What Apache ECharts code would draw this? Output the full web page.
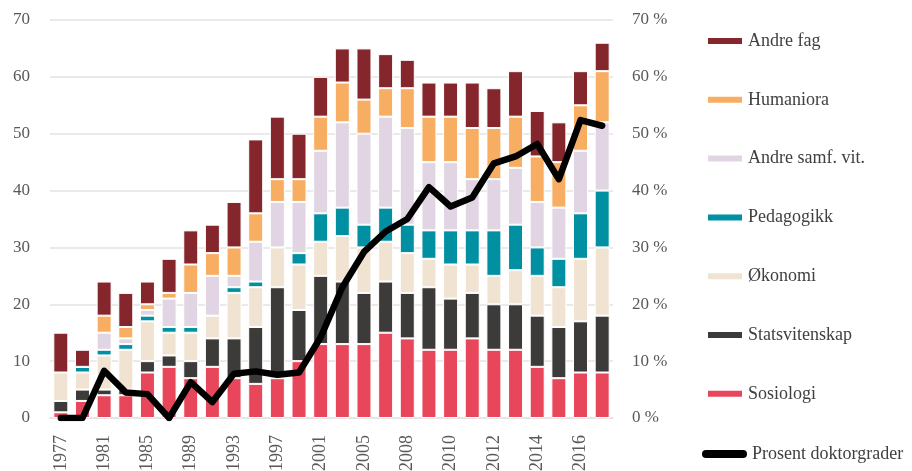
<!DOCTYPE html>
<html>
<head>
<meta charset="utf-8">
<script src="https://cdn.jsdelivr.net/npm/echarts@6/dist/echarts.min.js"></script>
<style>
  html, body { margin: 0; padding: 0; background: #fff; }
  #chart { width: 912px; height: 471px; }
</style>
</head>
<body>
<div id="chart"></div>
<script>
const years = ['1977', '1979', '1981', '1983', '1985', '1987', '1989', '1991', '1993', '1995', '1997', '1999', '2001',
  '2003', '2005', '2007', '2008', '2009', '2010', '2011', '2012', '2013', '2014', '2015', '2016', '2017']

const sosiologi = [1, 3, 4, 4, 8, 9, 7, 9, 7, 6, 7, 10, 13, 13, 13, 15, 14, 12, 12, 14, 12, 12, 9, 7, 8, 8]
const statsvitenskap = [2, 2, 1, 1, 2, 2, 3, 5, 7, 10, 16, 9, 12, 11, 9, 9, 8, 11, 9, 8, 8, 8, 9, 9, 9, 10]
const okonomi = [5, 3, 6, 7, 7, 4, 5, 4, 8, 7, 7, 8, 6, 8, 8, 7, 7, 5, 6, 5, 5, 6, 7, 7, 11, 12]
const pedagogikk = [0, 1, 1, 1, 1, 1, 1, 0, 1, 1, 0, 2, 5, 5, 4, 6, 5, 5, 6, 6, 8, 8, 5, 5, 8, 10]
const andreSamf = [0, 0, 3, 1, 1, 5, 6, 7, 2, 7, 8, 9, 11, 15, 16, 16, 17, 12, 12, 9, 9, 10, 8, 9, 11, 12]
const humaniora = [0, 0, 3, 2, 1, 1, 5, 4, 5, 5, 4, 4, 6, 7, 6, 5, 7, 8, 8, 9, 9, 9, 8, 8, 8, 9]
const andreFag = [7, 3, 6, 6, 4, 6, 6, 5, 8, 13, 11, 8, 7, 6, 9, 6, 5, 6, 6, 8, 7, 8, 8, 7, 6, 5]
const prosent = [0, 0, 8.3, 4.5, 4.2, 0, 6.3, 2.8, 7.8, 8.2, 7.6, 8, 14.2, 23, 29.2, 32.8, 35, 40.6, 37.2, 38.8,
  44.8, 46, 48.2, 42, 52.4, 51.4]

const font = '"Liberation Serif", "DejaVu Serif", serif'

const stacks = [
  { name: 'Sosiologi', data: sosiologi, color: '#e8475b' },
  { name: 'Statsvitenskap', data: statsvitenskap, color: '#3c3b39' },
  { name: 'Økonomi', data: okonomi, color: '#f1e3d2' },
  { name: 'Pedagogikk', data: pedagogikk, color: '#0090a2' },
  { name: 'Andre samf. vit.', data: andreSamf, color: '#e1d5e4' },
  { name: 'Humaniora', data: humaniora, color: '#f7ae62' },
  { name: 'Andre fag', data: andreFag, color: '#85262c' }
]

const valueAxis = (extra) => Object.assign({
  type: 'value',
  min: 0,
  max: 70,
  interval: 10,
  axisLine: { show: false },
  axisTick: { show: false },
  splitLine: { lineStyle: { color: '#e3e3e3', width: 1.5 } },
  axisLabel: { color: '#595959', fontFamily: font, fontSize: 17 }
}, extra)

const chart = echarts.init(document.getElementById('chart'))
chart.setOption({
  animation: false,
  grid: { left: 50, right: 299, top: 20, bottom: 53, outerBoundsMode: 'none' },
  legend: [{
    orient: 'vertical',
    left: 706,
    top: 31,
    padding: 0,
    itemWidth: 36,
    itemHeight: 8,
    itemGap: 38.8,
    icon: 'rect',
    textStyle: { color: '#404040', fontFamily: font, fontSize: 18, lineHeight: 20 },
    data: stacks.map(s => s.name).reverse()
  }, {
    left: 702,
    top: 444,
    padding: 0,
    itemWidth: 45,
    itemHeight: 8,
    icon: 'path://M4,0 h37 a4,4 0 0 1 0,8 h-37 a4,4 0 0 1 0,-8z',
    textStyle: { color: '#404040', fontFamily: font, fontSize: 18, lineHeight: 20 },
    data: ['Prosent doktorgrader']
  }],
  xAxis: {
    type: 'category',
    data: years,
    axisLine: { lineStyle: { color: '#e3e3e3', width: 1.5 } },
    axisTick: { show: false },
    axisLabel: {
      interval: 1,
      rotate: 90,
      margin: 17,
      color: '#595959',
      fontFamily: font,
      fontSize: 18
    }
  },
  yAxis: [
    valueAxis({ axisLabel: { color: '#595959', fontFamily: font, fontSize: 17, margin: 20 } }),
    valueAxis({
      position: 'right',
      splitLine: { show: false },
      axisLabel: { color: '#595959', fontFamily: font, fontSize: 17, margin: 19, formatter: '{value} %' }
    })
  ],
  series: [
    ...stacks.map(s => ({
      name: s.name,
      type: 'bar',
      stack: 'fag',
      barWidth: 15,
      data: s.data,
      itemStyle: { color: s.color, borderColor: '#fff', borderWidth: 1 }
    })),
    {
      name: 'Prosent doktorgrader',
      type: 'line',
      yAxisIndex: 1,
      data: prosent,
      symbol: 'none',
      z: 5,
      itemStyle: { color: '#000' },
      lineStyle: { color: '#000', width: 6.5, cap: 'round', join: 'round' }
    }
  ]
})
</script>
</body>
</html>
